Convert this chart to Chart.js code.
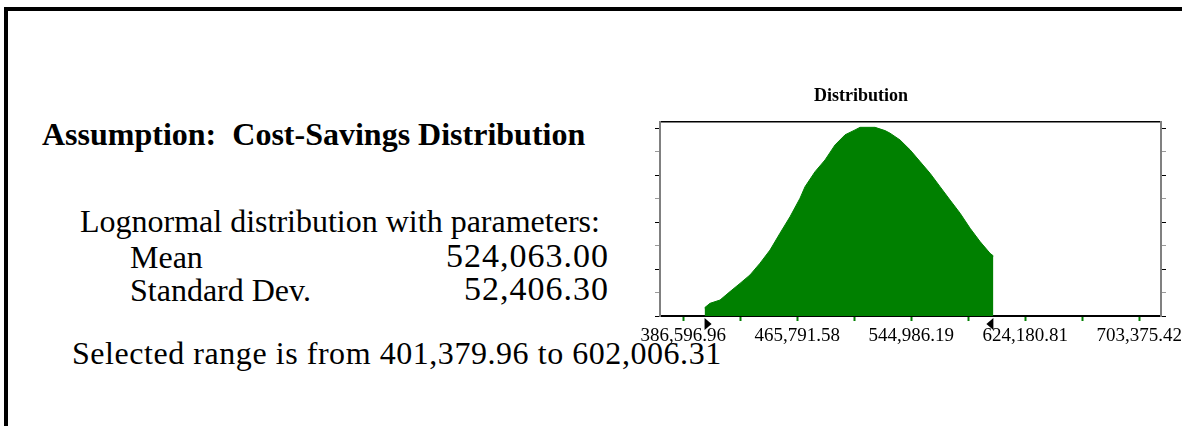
<!DOCTYPE html>
<html><head><meta charset="utf-8">
<script src="https://cdn.jsdelivr.net/npm/chart.js@4.4.1/dist/chart.umd.min.js"></script>
<style>
html,body{margin:0;padding:0;background:#fff;overflow:hidden;width:1182px;height:426px;position:relative;}
#frame{position:absolute;left:4px;top:7px;width:1300px;height:600px;border-left:4px solid #000;border-top:4px solid #000;}
.t{position:absolute;font-family:'Liberation Serif','Times New Roman',serif;font-size:32px;line-height:32px;color:#000;white-space:pre;}
.r{text-align:right;width:320px;font-size:34px;letter-spacing:1px;}
#wrap{position:absolute;left:630px;top:80px;width:560px;height:290px;}
</style></head><body>
<div id="frame"></div>
<div class="t" style="left:42px;top:118px;font-weight:bold">Assumption:  Cost-Savings Distribution</div>
<div class="t" style="left:80px;top:205px">Lognormal distribution with parameters:</div>
<div class="t" style="left:130px;top:241px">Mean</div>
<div class="t r" style="left:289px;top:240px">524,063.00</div>
<div class="t" style="left:130px;top:274px">Standard Dev.</div>
<div class="t r" style="left:289px;top:273px">52,406.30</div>
<div class="t" style="left:72px;top:337px;letter-spacing:0.55px">Selected range is from 401,379.96 to 602,006.31</div>
<div id="wrap"><canvas id="c"></canvas></div>
<script>
// ---- data ----
const costSavings = [401379.96, 405150, 412100, 419050, 426000, 432950, 439900, 446840, 453790, 460740,
  467690, 471160, 478110, 485060, 492010, 498960, 505910, 509380, 519800, 526750,
  530230, 537180, 544120, 551070, 558020, 564970, 571920, 578870, 585820, 592770, 599710, 602006.31];
const density = [0.35, 0.54, 0.68, 1.04, 1.39, 1.75, 2.25, 2.81, 3.53, 4.23,
  5.02, 5.51, 6.15, 6.65, 7.29, 7.72, 7.93, 8.04, 8.04, 7.90,
  7.79, 7.50, 7.08, 6.58, 6.08, 5.51, 4.94, 4.38, 3.74, 3.17, 2.67, 2.56];
const xTickValues = [386596.96, 426194.27, 465791.58, 505388.89, 544986.19, 584583.50, 624180.81, 663778.12, 703375.42];
const xTickLabels = ['386,596.96', '', '465,791.58', '', '544,986.19', '', '624,180.81', '', '703,375.42'];
const yTickValues = [0, 1, 2, 3, 4, 5, 6, 7, 8];
const rangeStart = 401379.96;
const rangeEnd = 602006.31;
const xMin = 370406, xMax = 718450, yMax = 8.28;
const chartTitle = 'Distribution';

const GREEN = '#008000';
const serif = "'Liberation Serif','Times New Roman',serif";

const extras = {
  id: 'extras',
  afterDraw(chart) {
    const ctx = chart.ctx, x = chart.scales.x, a = chart.chartArea;
    ctx.save();
    ctx.fillStyle = '#000';
    const y0 = a.bottom + 2;
    const p1 = x.getPixelForValue(rangeStart);
    ctx.beginPath(); ctx.moveTo(p1, y0); ctx.lineTo(p1, y0 + 12); ctx.lineTo(p1 + 7, y0 + 6); ctx.closePath(); ctx.fill();
    const p2 = x.getPixelForValue(rangeEnd);
    ctx.beginPath(); ctx.moveTo(p2, y0); ctx.lineTo(p2, y0 + 12); ctx.lineTo(p2 - 7, y0 + 6); ctx.closePath(); ctx.fill();
    ctx.font = 'bold 18px ' + serif;
    ctx.textAlign = 'center';
    ctx.textBaseline = 'alphabetic';
    ctx.fillText(chartTitle, a.left + 201, 21);
    ctx.restore();
  }
};

const yAxis = (pos, w) => ({
  type: 'linear', position: pos, min: 0, max: yMax,
  afterBuildTicks: s => { s.ticks = yTickValues.map(v => ({ value: v })); },
  ticks: { display: false },
  grid: { drawOnChartArea: false, drawTicks: true, tickLength: 5, tickWidth: 1,
    tickColor: c => (c.tick && c.tick.value % 2 === 1) ? '#999999' : '#000000' },
  border: { display: true, color: '#808080', width: 2 },
  afterFit: s => { s.width = w; }
});

new Chart(document.getElementById('c'), {
  type: 'line',
  data: {
    datasets: [{
      data: costSavings.map((v, i) => ({ x: v, y: density[i] })),
      fill: 'origin', backgroundColor: GREEN, borderColor: GREEN, borderWidth: 1,
      pointRadius: 0, tension: 0
    }]
  },
  options: {
    responsive: true, maintainAspectRatio: false, animation: false,
    layout: { padding: 0 },
    plugins: { legend: { display: false }, tooltip: { enabled: false }, title: { display: false } },
    scales: {
      x: {
        type: 'linear', position: 'bottom', min: xMin, max: xMax,
        afterBuildTicks: s => { s.ticks = xTickValues.map(v => ({ value: v })); },
        ticks: { autoSkip: false, maxRotation: 0, padding: 4, color: '#000',
          font: { family: serif, size: 19 }, callback: (v, i) => xTickLabels[i] },
        grid: { drawOnChartArea: false, tickLength: 5, tickWidth: 2, tickColor: GREEN },
        border: { display: true, color: '#000', width: 2 },
        afterFit: s => { s.height = 54; s.paddingLeft = 0; s.paddingRight = 0; }
      },
      xTop: {
        type: 'linear', position: 'top', min: xMin, max: xMax,
        ticks: { display: false },
        grid: { display: true, drawOnChartArea: false, drawTicks: false },
        border: { display: true, color: '#000', width: 1.5 },
        afterFit: s => { s.height = 41.7; }
      },
      y: yAxis('left', 30),
      y2: yAxis('right', 29)
    }
  },
  plugins: [extras]
});
</script>
</body></html>
